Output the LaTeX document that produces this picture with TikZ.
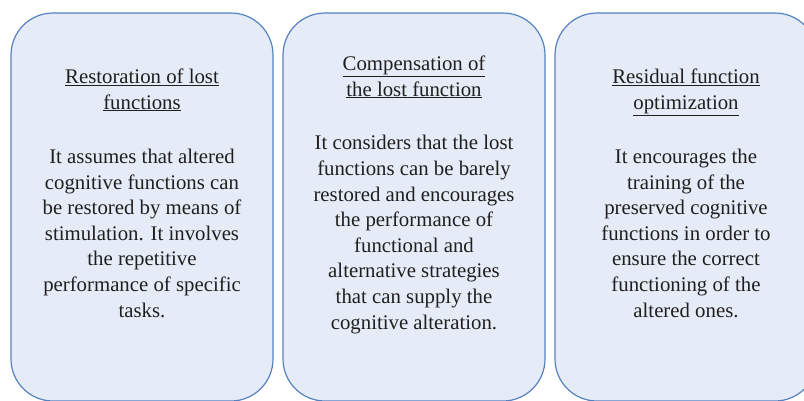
\documentclass[tikz,border=0pt]{standalone}
\usepackage{fontspec}
\setmainfont{Liberation Serif}
\usetikzlibrary{positioning}
\definecolor{boxfill}{HTML}{E6ECF7}
\definecolor{boxline}{HTML}{5581C1}

\begin{document}
\begin{tikzpicture}[x=1pt, y=-1pt, line width=1.2pt,
		panel/.style={draw=boxline, fill=boxfill, rounded corners=42pt},
		txt/.style={align=center, inner sep=0pt, anchor=base, text=black!88,
			font=\fontsize{20.8}{25.6}\selectfont}]
	\useasboundingbox (0,0) rectangle (804,400);
	\clip (0,0) rectangle (804,400);

	% three panels
	\draw[panel] (11,13) rectangle (273,401);
	\draw[panel] (283,13) rectangle (545,401);
	\draw[panel] (555,13) rectangle (817,401);

	% base anchor = baseline of last line
	\node[txt] (restoreT) at (142,109) {\underline{Restoration of lost}\\\underline{functions}};
	\node[txt] (restoreB) at (142,317) {It assumes that altered\\cognitive functions can\\be restored by means of\\stimulation. It involves\\the repetitive\\performance of specific\\tasks.};

	\node[txt] (compT) at (414,96) {\underline{Compensation of}\\\underline{the lost function}};
	\node[txt] (compB) at (414,329) {It considers that the lost\\functions can be barely\\restored and encourages\\the performance of\\functional and\\alternative strategies\\that can supply the\\cognitive alteration.};

	\node[txt] (optT) at (686,109) {\underline{Residual function}\\\underline{optimization}};
	\node[txt] (optB) at (686,317) {It encourages the\\training of the\\preserved cognitive\\functions in order to\\ensure the correct\\functioning of the\\altered ones.};
\end{tikzpicture}
\end{document}
